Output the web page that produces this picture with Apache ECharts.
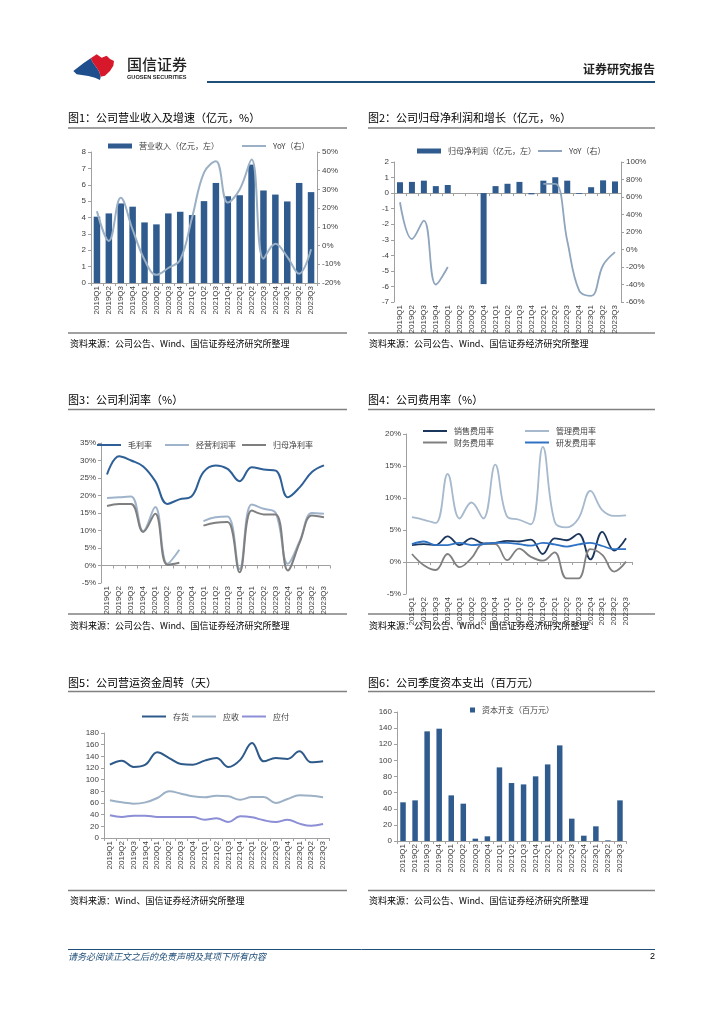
<!DOCTYPE html>
<html><head><meta charset="utf-8">
<script src="https://cdn.jsdelivr.net/npm/echarts@6/dist/echarts.min.js"></script>
<style>html,body{margin:0;padding:0;background:#fff}#c{width:724px;height:1024px}</style>
</head><body><div id="c"></div>
<script>
// ---------- data ----------
const quarters = ['2019Q1','2019Q2','2019Q3','2019Q4','2020Q1','2020Q2','2020Q3','2020Q4','2021Q1','2021Q2','2021Q3','2021Q4','2022Q1','2022Q2','2022Q3','2022Q4','2023Q1','2023Q2','2023Q3'];
// Fig1
const revenue = [4.05,4.25,4.86,4.66,3.7,3.58,4.25,4.35,4.15,5.0,6.11,5.3,5.36,7.23,5.65,5.4,4.98,6.11,5.55];
const revenueYoY = [18.4,2.5,25.5,8.5,-7.6,-15.6,-12,-7.6,15,39,45,23,30,46,-7,1,-6,-15,-2];
// Fig2
const netProfit = [0.7,0.72,0.8,0.45,0.52,0,0,-5.85,0.45,0.6,0.72,-0.08,0.8,1.02,0.8,-0.05,0.38,0.82,0.75];
const netProfitYoY = [54,12,33,-40,-20,null,null,null,null,null,null,null,75,75,10,-47,-53,-18,-3];
// Fig3
const grossMargin = [26,31.2,30,28.3,24.1,17.6,18.9,19.7,26.7,28.6,27.6,24.1,28.1,27.4,27.1,19.5,22.4,26.7,28.6];
const opMargin = [19.3,19.5,19.7,9.8,16.7,0.5,4.5,null,12.7,13.8,14,-1,17.4,16.2,15,0.5,7.1,15,14.8];
const netMargin = [17,17.6,17.6,9.6,14.8,0.2,0.8,null,11.4,12.2,12.4,-1.9,15.7,14.6,14.6,-1.4,6.7,14.3,13.8];
// Fig4
const sellingRate = [2.65,2.8,2.65,4.0,2.65,3.7,2.9,3.0,3.3,3.2,3.5,1.25,3.7,3.4,4.4,0.4,4.7,1.8,3.7];
const adminRate = [7.0,6.6,6.1,13.75,6.8,9.3,6.8,15.2,7.1,6.6,5.9,18.0,6.3,5.4,6.8,11.1,8.1,7.2,7.3];
const financeRate = [1.25,-0.5,-1.25,1.25,-0.8,0.6,2.8,2.8,0.3,2.1,0.8,0.2,1.5,-2.55,-2.55,2.0,1.1,-1.5,0.05];
const rdRate = [2.8,3.2,2.65,2.65,3.0,2.65,2.8,3.0,3.0,2.8,2.55,3.0,2.75,2.4,2.75,3.0,2.5,2.0,2.0];
// Fig5
const inventoryDays = [125.7,132.6,121.7,125.7,146.9,137,126.9,125.7,132.6,137,121.7,134,162.9,131.4,137,135.4,148.6,129.7,131.4];
const receivableDays = [64.6,61.1,58.9,61.1,68.6,80,76,71.4,69.7,72.6,71.4,65.7,70.3,70.3,60,66.9,73.1,72.6,69.7];
const payableDays = [38.9,36,38.3,38.3,36,36,36,36,31.4,33.7,27.4,37.1,35.4,30.3,27.4,31.4,24.6,21.1,24];
// Fig6
const capex = [48,50.4,136,139.3,56.6,46.3,2.9,5.8,91.3,71.9,70.2,80.2,95,118.6,27.7,6.6,18.2,0.8,50.4];

// ---------- styles ----------
const F = '"Liberation Sans","Noto Sans CJK SC",sans-serif';
const CJK = '"Noto Sans CJK SC",sans-serif';
const AX = '#a0a0a0';
const TXT = '#404040';

function catAxis(gi, extra) {
  return Object.assign({
    type: 'category', gridIndex: gi, data: quarters, boundaryGap: true,
    axisLine: { show: true, lineStyle: { color: AX, width: 1 } },
    axisTick: { show: true, length: 3, alignWithLabel: false, lineStyle: { color: AX } },
    axisLabel: { rotate: 90, interval: 0, fontSize: 8, color: TXT, fontFamily: F, margin: 3 },
    splitLine: { show: false }
  }, extra || {});
}
function valAxis(gi, min, max, interval, pos, fmt) {
  return {
    type: 'value', gridIndex: gi, min: min, max: max, interval: interval, position: pos || 'left',
    axisLine: { show: true, lineStyle: { color: AX, width: 1 } },
    axisTick: { show: true, length: 3, lineStyle: { color: AX } },
    axisLabel: { fontSize: 8, color: TXT, fontFamily: F, margin: 5, formatter: fmt || '{value}' },
    splitLine: { show: false }
  };
}
function lg(name, left, centerY, kind, color) {
  const o = {
    data: [name], left: left, top: centerY - 6, selectedMode: false, itemGap: 0, padding: 0,
    textStyle: { fontSize: 8, color: TXT, fontFamily: CJK, padding: [0, 0, 0, 2] }
  };
  if (kind === 'bar') { o.icon = 'rect'; o.itemWidth = 24; o.itemHeight = 5; }
  else if (kind === 'sq') { o.icon = 'rect'; o.itemWidth = 5; o.itemHeight = 5; }
  else { o.icon = 'rect'; o.itemWidth = 24; o.itemHeight = 2; }
  return o;
}
function line(name, data, xi, yi, color, w) {
  return { name: name, type: 'line', data: data, xAxisIndex: xi, yAxisIndex: yi, smooth: 0.4,
    symbol: 'none', connectNulls: false, lineStyle: { color: color, width: w || 2 }, itemStyle: { color: color } };
}
function txt(x, y, s, size, opts) {
  return Object.assign({ type: 'text', x: x, y: y, silent: true,
    style: Object.assign({ text: s, font: size + 'px ' + CJK, fill: '#000', verticalAlign: 'middle' }, (opts && opts.style) || {}) }, (opts && opts.el) || {});
}
function hline(x1, x2, y, color, w) {
  return { type: 'line', silent: true, shape: { x1: x1, y1: y, x2: x2, y2: y }, style: { stroke: color, lineWidth: w } };
}
const Z = (zx, zy) => [60 + zx / 3, 45 + zy / 3];

const graphics = [
  // logo
  { type: 'polygon', silent: true, shape: { points: [Z(40,78),Z(70,55),Z(92,40),Z(100,55),Z(110,68),Z(118,80),Z(122,95),Z(120,105),Z(105,98),Z(85,93),Z(65,90),Z(50,88)] }, style: { fill: '#1f4e8c' } },
  { type: 'polygon', silent: true, shape: { points: [Z(92,40),Z(110,28),Z(125,38),Z(140,32),Z(150,42),Z(162,48),Z(160,62),Z(150,78),Z(135,92),Z(122,95),Z(118,80),Z(110,68),Z(100,55)] }, style: { fill: '#d7182a' } },
  txt(127, 64, '国信证券', 15, { style: { fill: '#222', font: '500 15px ' + CJK } }),
  txt(127, 77.5, 'GUOSEN SECURITIES', 5.6, { style: { fill: '#222', font: 'bold 5.6px "Liberation Sans",sans-serif' } }),
  txt(655, 69, '证券研究报告', 12, { style: { fill: '#222', font: 'bold 12px ' + CJK, align: 'right' } }),
  hline(207, 655, 82, '#1f4e79', 2),
  // footer
  hline(68, 655, 949.5, '#1f4e79', 1),
  txt(68, 957, '请务必阅读正文之后的免责声明及其项下所有内容', 9, { style: { fill: '#1f4e79', font: 'italic 9px ' + CJK } }),
  txt(655, 957, '2', 9, { style: { fill: '#000', align: 'right', font: '9px "Liberation Sans",sans-serif' } }),
  // titles
  txt(68, 118, '图1：公司营业收入及增速（亿元，%）', 11),
  hline(68, 347, 128, '#808080', 1.5),
  hline(68, 347, 333, '#808080', 1.5),
  txt(70, 344, '资料来源：公司公告、Wind、国信证券经济研究所整理', 9),
  txt(368, 118, '图2：公司归母净利润和增长（亿元，%）', 11),
  hline(368, 655, 128, '#808080', 1.5),
  hline(368, 655, 333, '#808080', 1.5),
  txt(369, 344, '资料来源：公司公告、Wind、国信证券经济研究所整理', 9),
  txt(68, 400, '图3：公司利润率（%）', 11),
  hline(68, 347, 409.5, '#808080', 1.5),
  hline(68, 347, 614, '#808080', 1.5),
  txt(70, 625.5, '资料来源：公司公告、Wind、国信证券经济研究所整理', 9),
  txt(368, 400, '图4：公司费用率（%）', 11),
  hline(368, 655, 409.5, '#808080', 1.5),
  hline(368, 655, 614, '#808080', 1.5),
  txt(369, 625.5, '资料来源：公司公告、Wind、国信证券经济研究所整理', 9),
  txt(68, 683, '图5：公司营运资金周转（天）', 11),
  hline(68, 347, 691.5, '#808080', 1.5),
  hline(68, 347, 890.5, '#808080', 1.5),
  txt(70, 901, '资料来源：Wind、国信证券经济研究所整理', 9),
  txt(368, 683, '图6：公司季度资本支出（百万元）', 11),
  hline(368, 655, 691.5, '#808080', 1.5),
  hline(368, 655, 890.5, '#808080', 1.5),
  txt(369, 901, '资料来源：公司公告、Wind、国信证券经济研究所整理', 9)
];

const BAR = '#2f5b8e';
const option = {
  backgroundColor: '#fff',
  animation: false,
  grid: [
    { left: 91, top: 152, width: 226, height: 131, outerBoundsMode: 'none' },
    { left: 394, top: 162, width: 227, height: 140, outerBoundsMode: 'none' },
    { left: 101, top: 443, width: 229, height: 140, outerBoundsMode: 'none' },
    { left: 406, top: 434, width: 226, height: 160, outerBoundsMode: 'none' },
    { left: 104, top: 733, width: 225, height: 105, outerBoundsMode: 'none' },
    { left: 397, top: 712, width: 229, height: 129, outerBoundsMode: 'none' }
  ],
  xAxis: [
    catAxis(0, { axisLine: { onZero: false, lineStyle: { color: AX } } }),
    catAxis(1, { axisLine: { onZero: true, onZeroAxisIndex: 2, lineStyle: { color: AX } } }),
    catAxis(2, { axisLine: { onZero: true, lineStyle: { color: AX } } }),
    catAxis(3, { axisLine: { onZero: true, lineStyle: { color: AX } } }),
    catAxis(4, { axisLine: { onZero: false, lineStyle: { color: AX } } }),
    catAxis(5, { axisLine: { onZero: false, lineStyle: { color: AX } } })
  ],
  yAxis: [
    valAxis(0, 0, 8, 1, 'left'),
    valAxis(0, -20, 50, 10, 'right', '{value}%'),
    valAxis(1, -7, 2, 1, 'left'),
    valAxis(1, -60, 100, 20, 'right', '{value}%'),
    valAxis(2, -5, 35, 5, 'left', '{value}%'),
    valAxis(3, -5, 20, 5, 'left', '{value}%'),
    valAxis(4, 0, 180, 20, 'left'),
    valAxis(5, 0, 160, 20, 'left')
  ],
  legend: [
    lg('营业收入（亿元，左）', 108, 148, 'bar'),
    lg('YoY（右）', 242, 148, 'line'),
    lg('归母净利润（亿元，左）', 417, 153, 'bar'),
    lg('YoY（右） ', 538, 153, 'line'),
    lg('毛利率', 97, 447, 'line'),
    lg('经营利润率', 165, 447, 'line'),
    lg('归母净利率', 242, 447, 'line'),
    lg('销售费用率', 423, 433, 'line'),
    lg('管理费用率', 525, 433, 'line'),
    lg('财务费用率', 423, 444.5, 'line'),
    lg('研发费用率', 525, 444.5, 'line'),
    lg('存货', 142, 718.5, 'line'),
    lg('应收', 192, 718.5, 'line'),
    lg('应付', 242, 718.5, 'line'),
    lg('资本开支（百万元）', 470, 712, 'sq')
  ],
  series: [
    { name: '营业收入（亿元，左）', type: 'bar', data: revenue, xAxisIndex: 0, yAxisIndex: 0, barWidth: 6.5, itemStyle: { color: BAR } },
    line('YoY（右）', revenueYoY, 0, 1, '#9bb0c4', 2),
    { name: '归母净利润（亿元，左）', type: 'bar', data: netProfit, xAxisIndex: 1, yAxisIndex: 2, barWidth: 6, itemStyle: { color: BAR } },
    line('YoY（右） ', netProfitYoY, 1, 3, '#8ea5bd', 1.8),
    line('毛利率', grossMargin, 2, 4, '#2e5f96', 2),
    line('经营利润率', opMargin, 2, 4, '#9fb4cb', 2),
    line('归母净利率', netMargin, 2, 4, '#7f7f7f', 2),
    line('销售费用率', sellingRate, 3, 5, '#1b365d', 1.8),
    line('管理费用率', adminRate, 3, 5, '#a6b9cd', 1.8),
    line('财务费用率', financeRate, 3, 5, '#808080', 1.8),
    line('研发费用率', rdRate, 3, 5, '#2f72c4', 1.8),
    line('存货', inventoryDays, 4, 6, '#2e5a8a', 2),
    line('应收', receivableDays, 4, 6, '#9cb1c6', 2),
    line('应付', payableDays, 4, 6, '#8c8ed6', 2),
    { name: '资本开支（百万元）', type: 'bar', data: capex, xAxisIndex: 5, yAxisIndex: 7, barWidth: 5.5, itemStyle: { color: BAR } }
  ],
  graphic: graphics
};
const chart = echarts.init(document.getElementById('c'), null, { renderer: 'canvas' });
chart.setOption(option);
</script>
</body></html>
